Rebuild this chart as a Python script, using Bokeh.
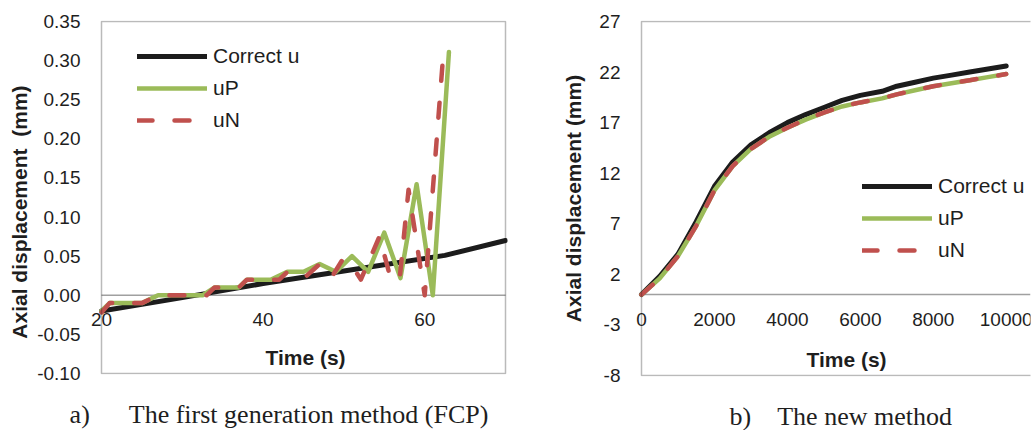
from bokeh.plotting import figure
from bokeh.models import (Range1d, FixedTicker, NumeralTickFormatter, Legend, LegendItem,
                          Label, LabelSet, ColumnDataSource, BoxAnnotation, LinearAxis)
from bokeh.core.properties import value
from bokeh.layouts import row
from bokeh.embed import file_html
from bokeh.resources import INLINE

# ---------------- data: (a) first generation method ----------------
a_correct_t = [20, 30, 40, 50, 62.5, 70]
a_correct_u = [-0.020, -0.003, 0.015, 0.031, 0.051, 0.070]

a_up_t = [20, 21, 25, 27, 32.5, 34, 37, 38, 41, 43, 45, 47, 49, 51, 53, 55, 57, 59, 61, 63]
a_up_u = [-0.020, -0.010, -0.010, 0.000, 0.000, 0.010, 0.010, 0.020, 0.020, 0.030, 0.030,
          0.040, 0.030, 0.050, 0.030, 0.080, 0.022, 0.142, 0.000, 0.311]

a_un_t = [20, 21, 25, 27, 33, 34, 37, 38, 42, 43, 44.5, 45.4, 47, 48.6, 49.8, 51.0, 52.1,
          54.4, 55.8, 56.9, 58.0, 60.0, 62.2, 62.6]
a_un_u = [-0.022, -0.010, -0.010, 0.000, 0.000, 0.010, 0.010, 0.020, 0.020, 0.030, 0.030,
          0.025, 0.040, 0.025, 0.045, 0.038, 0.020, 0.075, 0.021, 0.021, 0.135, 0.000,
          0.295, 0.300]

a_xlim = [20, 70]
a_ylim = [-0.10, 0.35]
a_xticks = [20, 40, 60]
a_yticks = [-0.10, -0.05, 0.00, 0.05, 0.10, 0.15, 0.20, 0.25, 0.30, 0.35]

# ---------------- data: (b) the new method ----------------
b_t = [0, 500, 1000, 1500, 2000, 2500, 3000, 3500, 4000, 4500, 5000, 5500, 6000, 6600,
       7000, 7500, 8000, 8500, 9000, 9500, 10000]
b_correct_u = [0.0, 1.8, 4.0, 7.2, 10.7, 13.1, 14.8, 16.0, 17.0, 17.8, 18.5, 19.2, 19.7,
               20.1, 20.6, 21.0, 21.4, 21.7, 22.0, 22.3, 22.6]
b_up_u = [0.0, 1.6, 3.8, 6.8, 10.3, 12.7, 14.4, 15.6, 16.5, 17.3, 18.0, 18.6, 19.0, 19.4,
          19.8, 20.2, 20.6, 20.9, 21.2, 21.5, 21.8]
b_un_u = [0.0, 1.6, 3.8, 6.8, 10.3, 12.7, 14.4, 15.6, 16.5, 17.3, 18.0, 18.6, 19.0, 19.4,
          19.8, 20.2, 20.6, 20.9, 21.2, 21.5, 21.8]

b_xlim = [0, 10666]      # visible part (the original axis runs past the picture edge)
b_ylim = [-8, 27]
b_xticks = [0, 2000, 4000, 6000, 8000, 10000]
b_yticks = [-8, -3, 2, 7, 12, 17, 22, 27]

series_names = ["Correct u", "uP", "uN"]
series_colors = ["#1c1c1c", "#9bbb59", "#c0504d"]

SANS = "Liberation Sans"
SERIF = "Liberation Serif"
TXT = "#1e1e1e"
NB = "\u00a0"


def make_fig(xlim, ylim, box_w, box_h, pad_l, border_l, border_r, border_t, closed_right):
    # frame is a few px larger than the plot box so labels on the box edge are not clipped
    sx = (xlim[1] - xlim[0]) / box_w
    sy = (ylim[1] - ylim[0]) / box_h
    pad_r = 2 if closed_right else 0
    p = figure(frame_width=box_w + pad_l + pad_r, frame_height=box_h + 2,
               min_border_left=border_l, min_border_right=border_r,
               min_border_top=border_t, min_border_bottom=50, x_axis_location=None,
               x_range=Range1d(xlim[0] - pad_l * sx, xlim[1] + pad_r * sx),
               y_range=Range1d(ylim[0] - sy, ylim[1] + sy),
               output_backend="svg", toolbar_location=None,
               background_fill_color="white", border_fill_color="white")
    p.outline_line_color = None
    p.xgrid.visible = False
    p.ygrid.visible = False
    # zero line
    p.segment(x0=[xlim[0]], y0=[0], x1=[xlim[1]], y1=[0], line_color="#a0a0a0", line_width=1.5)
    # plot box border
    right = xlim[1] if closed_right else xlim[1] + 50 * sx
    p.add_layout(BoxAnnotation(left=xlim[0], right=right, bottom=ylim[0], top=ylim[1],
                               fill_alpha=0, line_color="#1a1a1a", line_width=1.5))
    return p


def style_axes(p, xticks, yticks, yfmt, ylabel, ystand, ylab_stand, xlabel_pos):
    src = ColumnDataSource(dict(x=xticks, y=[0] * len(xticks), t=[str(v) for v in xticks]))
    p.add_layout(LabelSet(x="x", y="y", text="t", source=src, text_align="center",
                          text_baseline="top", y_offset=-18, text_font=value(SANS),
                          text_font_size=value("19px"), text_color=value(TXT)))
    p.add_layout(Label(x=xlabel_pos[0], y=xlabel_pos[1], x_units="screen", y_units="screen",
                       text="Time (s)", text_align="center", text_baseline="middle",
                       text_font=SANS, text_font_size="21px", text_font_style="bold",
                       text_color=TXT))
    ya = p.yaxis[0]
    ya.ticker = FixedTicker(ticks=yticks)
    ya.formatter = NumeralTickFormatter(format=yfmt)
    ya.axis_line_color = None
    ya.major_tick_line_color = None
    ya.minor_tick_line_color = None
    ya.major_tick_out = 0
    ya.major_tick_in = 0
    ya.major_label_standoff = ystand
    ya.major_label_text_font = SANS
    ya.major_label_text_font_size = "19px"
    ya.major_label_text_color = TXT
    ya.axis_label = ylabel
    ya.axis_label_standoff = ylab_stand
    ya.axis_label_text_font = SANS
    ya.axis_label_text_font_size = "21px"
    ya.axis_label_text_font_style = "bold"
    ya.axis_label_text_color = TXT


def add_lines(p, xs_list, ys_list):
    rends = []
    for i, (xs, ys) in enumerate(zip(xs_list, ys_list)):
        kw = dict(line_color=series_colors[i], line_join="round", line_cap="round")
        if i == 0:
            r = p.line(xs, ys, line_width=5, **kw)
        elif i == 1:
            r = p.line(xs, ys, line_width=4.5, **kw)
        else:
            r = p.line(xs, ys, line_width=4.5, line_dash="15 22", **kw)
        rends.append(r)
    return rends


def add_legend(p, rends, loc):
    items = [LegendItem(label=n, renderers=[r]) for n, r in zip(series_names, rends)]
    lg = Legend(items=items, location=loc, background_fill_alpha=0, border_line_color=None,
                padding=0, margin=0, spacing=4, glyph_width=70, glyph_height=28,
                label_height=28, label_standoff=6, label_text_font=SANS,
                label_text_font_size="21px", label_text_color=TXT)
    p.add_layout(lg, "center")


def add_caption(p, text):
    cap = LinearAxis(ticker=FixedTicker(ticks=[]), axis_line_color=None,
                     major_tick_line_color=None, minor_tick_line_color=None,
                     major_tick_out=0, major_tick_in=0, minor_tick_out=0,
                     axis_label=text, axis_label_standoff=25,
                     axis_label_text_font=SERIF, axis_label_text_font_size="26px",
                     axis_label_text_font_style="normal", axis_label_text_color=TXT)
    p.add_layout(cap, "below")


# ---------------- figure (a) ----------------
pa = make_fig(a_xlim, a_ylim, 404, 352, 12, 89, 30, 20, True)
style_axes(pa, a_xticks, a_yticks, "0.00",
           "Axial displacement" + NB + " (mm)" + NB * 5, 9, 3, (216, 17))
ra = add_lines(pa, [a_correct_t, a_up_t, a_un_t], [a_correct_u, a_up_u, a_un_u])
add_legend(pa, ra, (48, 240))
add_caption(pa, "a)" + NB * 6 + "The first generation method (FCP)" + NB * 6)

# ---------------- figure (b) ----------------
pb = make_fig(b_xlim, b_ylim, 389, 354, 10, 94, 2, 19, False)
style_axes(pb, b_xticks, b_yticks, "0", "Axial displacement (mm)", 11, 11, (215, 17))
rb = add_lines(pb, [b_t, b_t, b_t], [b_correct_u, b_up_u, b_un_u])
add_legend(pb, rb, (231, 112))
add_caption(pb, NB * 3 + "b)" + NB * 4 + "The new method")

layout = row(pa, pb, spacing=0)
open("out.html", "w").write(file_html(layout, INLINE))
